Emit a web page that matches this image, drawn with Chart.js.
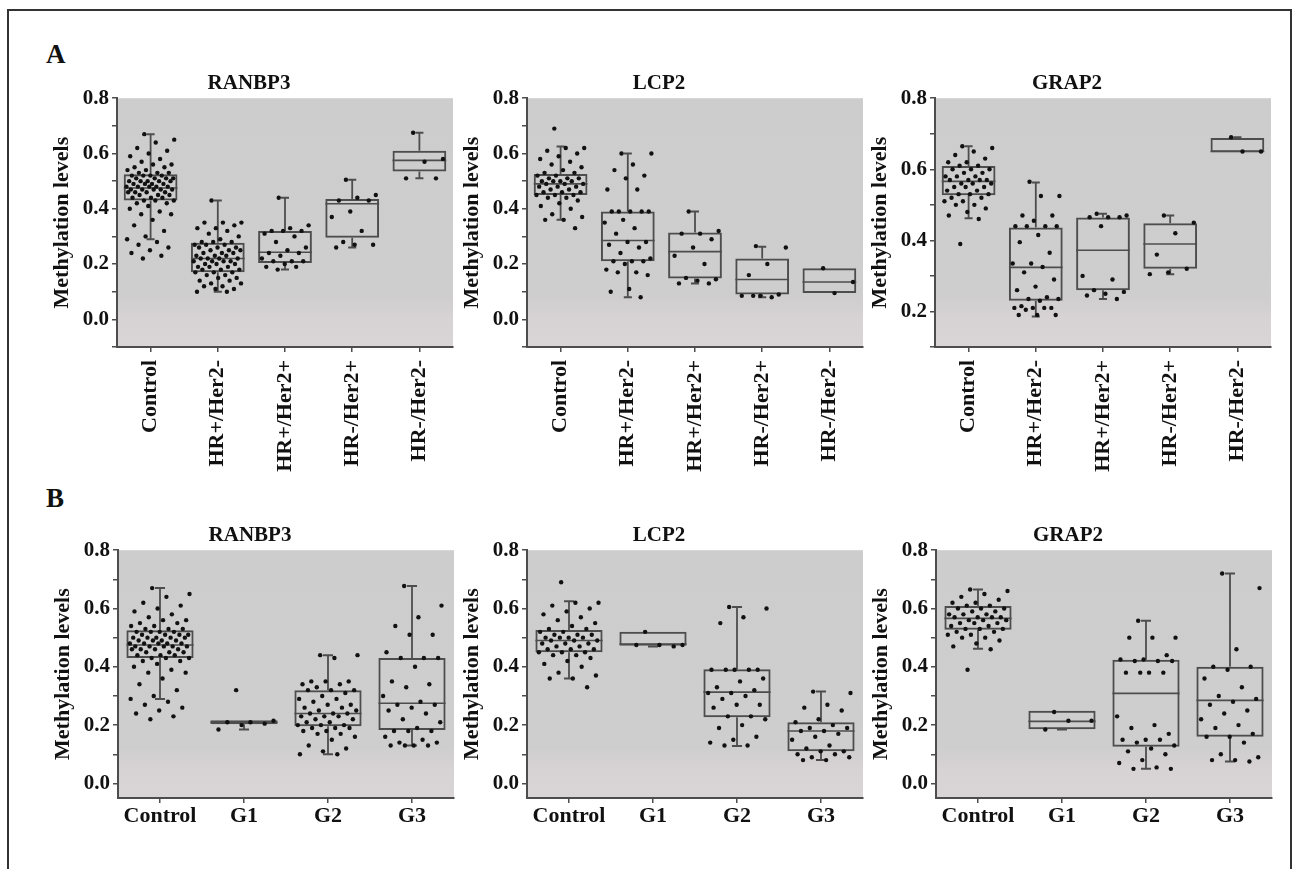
<!DOCTYPE html>
<html>
<head>
<meta charset="utf-8">
<script src="https://cdn.jsdelivr.net/npm/chart.js@4.4.1/dist/chart.umd.min.js"></script>
<style>
  body { margin: 0; background: #fff; width: 1293px; height: 869px; overflow: hidden; position: relative; font-family: "Liberation Serif", serif; }
  #frame { position: absolute; left: 7px; top: 9px; width: 1281px; height: 900px; border: 2px solid #333; border-bottom: none; }
  .lab { position: absolute; font-weight: bold; font-size: 27px; color: #111; line-height: 1; }
  canvas { position: absolute; }
</style>
</head>
<body>
<div id="frame"></div>
<div class="lab" style="left:46px;top:41px">A</div>
<div class="lab" style="left:46px;top:485px">B</div>
<canvas id="a1"></canvas>
<canvas id="a2"></canvas>
<canvas id="a3"></canvas>
<canvas id="b1"></canvas>
<canvas id="b2"></canvas>
<canvas id="b3"></canvas>
<script>
// categories and tick labels
const subtypeLabels = ['Control', 'HR+/Her2-', 'HR+/Her2+', 'HR-/Her2+', 'HR-/Her2-'];
const gradeLabels = ['Control', 'G1', 'G2', 'G3'];
const yTickLabels = ['0.0', '0.2', '0.4', '0.6', '0.8'];

// box stats per group: [lower whisker, q1, median, q3, upper whisker]
const ranbp3SubtypeBoxes = [[0.29, 0.43, 0.475, 0.525, 0.67], [0.10, 0.17, 0.22, 0.277, 0.43], [0.18, 0.204, 0.243, 0.32, 0.44], [0.26, 0.295, 0.418, 0.435, 0.505], [0.51, 0.535, 0.575, 0.61, 0.675]];
const lcp2SubtypeBoxes = [[0.36, 0.45, 0.49, 0.526, 0.625], [0.08, 0.21, 0.285, 0.39, 0.60], [0.13, 0.148, 0.245, 0.314, 0.39], [0.08, 0.09, 0.144, 0.22, 0.263], [0.095, 0.095, 0.135, 0.185, 0.185]];
const grap2SubtypeBoxes = [[0.462, 0.527, 0.566, 0.609, 0.665], [0.186, 0.23, 0.324, 0.436, 0.563], [0.235, 0.26, 0.372, 0.464, 0.475], [0.305, 0.32, 0.39, 0.448, 0.47], [0.648, 0.648, 0.65, 0.688, 0.69]];
const ranbp3GradeBoxes = [[0.29, 0.43, 0.475, 0.525, 0.67], [0.185, 0.203, 0.21, 0.217, 0.217], [0.10, 0.196, 0.24, 0.32, 0.44], [0.13, 0.183, 0.275, 0.43, 0.677]];
const lcp2GradeBoxes = [[0.36, 0.45, 0.49, 0.526, 0.625], [0.47, 0.472, 0.478, 0.52, 0.52], [0.128, 0.227, 0.313, 0.392, 0.605], [0.08, 0.11, 0.18, 0.21, 0.315]];
const grap2GradeBoxes = [[0.462, 0.527, 0.566, 0.609, 0.665], [0.185, 0.186, 0.213, 0.249, 0.249], [0.05, 0.126, 0.309, 0.424, 0.558], [0.075, 0.16, 0.285, 0.40, 0.72]];

// individual samples
const ranbp3Control = [0.67,0.65,0.64,0.62,0.61,0.60,0.59,0.58,0.57,0.56,0.56,0.55,0.55,0.54,0.54,0.53,0.53,0.53,0.52,0.52,0.52,0.52,0.51,0.51,0.51,0.51,0.50,0.50,0.50,0.50,0.50,0.49,0.49,0.49,0.49,0.48,0.48,0.48,0.48,0.48,0.47,0.47,0.47,0.47,0.47,0.46,0.46,0.46,0.46,0.45,0.45,0.45,0.44,0.44,0.44,0.43,0.43,0.43,0.42,0.42,0.41,0.40,0.39,0.38,0.38,0.36,0.34,0.32,0.30,0.29,0.28,0.27,0.26,0.25,0.24,0.23,0.22];
const ranbp3HRposHer2neg = [0.43,0.35,0.35,0.35,0.34,0.33,0.33,0.32,0.31,0.30,0.29,0.28,0.28,0.28,0.27,0.27,0.27,0.26,0.26,0.26,0.25,0.25,0.25,0.24,0.24,0.24,0.23,0.23,0.23,0.22,0.22,0.22,0.22,0.21,0.21,0.21,0.21,0.20,0.20,0.20,0.19,0.19,0.19,0.18,0.18,0.18,0.17,0.17,0.17,0.16,0.16,0.15,0.15,0.14,0.14,0.13,0.13,0.12,0.12,0.11,0.11,0.10,0.10];
const ranbp3HRposHer2pos = [0.44,0.34,0.33,0.32,0.32,0.32,0.31,0.30,0.28,0.26,0.25,0.24,0.24,0.23,0.22,0.21,0.21,0.21,0.20,0.19,0.19,0.18];
const ranbp3HRnegHer2pos = [0.505,0.45,0.44,0.43,0.43,0.39,0.37,0.32,0.28,0.27,0.27,0.26];
const ranbp3HRnegHer2neg = [0.675,0.58,0.57,0.51,0.51];
const ranbp3G1 = [0.32,0.215,0.21,0.21,0.205,0.20,0.185];
const ranbp3G2 = [0.44,0.44,0.43,0.35,0.35,0.35,0.34,0.34,0.33,0.32,0.32,0.32,0.31,0.30,0.29,0.29,0.28,0.27,0.27,0.26,0.26,0.25,0.25,0.24,0.24,0.24,0.23,0.23,0.23,0.22,0.22,0.21,0.21,0.20,0.20,0.20,0.19,0.19,0.19,0.18,0.18,0.17,0.17,0.16,0.15,0.13,0.12,0.11,0.10,0.10];
const ranbp3G3 = [0.677,0.61,0.57,0.54,0.51,0.51,0.45,0.43,0.43,0.43,0.40,0.35,0.34,0.33,0.30,0.28,0.27,0.27,0.26,0.25,0.24,0.22,0.21,0.19,0.18,0.18,0.18,0.16,0.15,0.14,0.14,0.13,0.13,0.13,0.13];

const lcp2Control = [0.69,0.62,0.62,0.61,0.60,0.59,0.58,0.57,0.56,0.55,0.54,0.53,0.53,0.52,0.52,0.51,0.51,0.51,0.50,0.50,0.50,0.50,0.49,0.49,0.49,0.48,0.48,0.48,0.47,0.47,0.46,0.46,0.46,0.45,0.45,0.45,0.44,0.44,0.43,0.42,0.41,0.40,0.38,0.37,0.36,0.36,0.33];
const lcp2HRposHer2neg = [0.60,0.60,0.56,0.54,0.52,0.51,0.47,0.47,0.39,0.39,0.39,0.39,0.39,0.36,0.35,0.33,0.31,0.28,0.28,0.27,0.26,0.24,0.22,0.21,0.21,0.21,0.20,0.18,0.17,0.17,0.16,0.11,0.10,0.08];
const lcp2HRposHer2pos = [0.39,0.32,0.31,0.31,0.29,0.26,0.23,0.20,0.15,0.145,0.14,0.13,0.13];
const lcp2HRnegHer2pos = [0.265,0.26,0.20,0.16,0.09,0.085,0.085,0.08,0.085];
const lcp2HRnegHer2neg = [0.185,0.135,0.095];
const lcp2G1 = [0.52,0.475,0.475,0.475,0.47];
const lcp2G2 = [0.605,0.60,0.57,0.55,0.39,0.39,0.39,0.39,0.39,0.36,0.35,0.33,0.32,0.31,0.31,0.30,0.29,0.27,0.27,0.26,0.23,0.23,0.22,0.20,0.19,0.16,0.15,0.14,0.13,0.13];
const lcp2G3 = [0.315,0.31,0.27,0.26,0.25,0.22,0.21,0.20,0.19,0.19,0.18,0.18,0.17,0.16,0.15,0.13,0.12,0.11,0.11,0.10,0.10,0.09,0.09,0.08,0.08];

const grap2Control = [0.665,0.66,0.65,0.64,0.63,0.62,0.62,0.61,0.61,0.60,0.60,0.60,0.59,0.59,0.58,0.58,0.58,0.57,0.57,0.57,0.57,0.56,0.56,0.56,0.55,0.55,0.55,0.54,0.54,0.53,0.53,0.53,0.52,0.52,0.51,0.51,0.50,0.50,0.49,0.48,0.47,0.46,0.39];
const grap2HRposHer2neg = [0.565,0.525,0.525,0.47,0.47,0.455,0.44,0.44,0.44,0.44,0.415,0.395,0.365,0.335,0.335,0.325,0.31,0.29,0.27,0.26,0.24,0.235,0.235,0.23,0.215,0.21,0.21,0.21,0.21,0.205,0.19,0.19,0.19];
const grap2HRposHer2pos = [0.475,0.47,0.465,0.465,0.465,0.44,0.30,0.29,0.26,0.255,0.25,0.245,0.235];
const grap2HRnegHer2pos = [0.47,0.45,0.42,0.36,0.32,0.31,0.305];
const grap2HRnegHer2neg = [0.69,0.65,0.65];
const grap2G1 = [0.245,0.215,0.215,0.185];
const grap2G2 = [0.558,0.50,0.50,0.50,0.44,0.425,0.425,0.42,0.42,0.42,0.38,0.38,0.38,0.38,0.23,0.20,0.19,0.17,0.15,0.15,0.15,0.14,0.13,0.12,0.11,0.10,0.08,0.07,0.055,0.05,0.05];
const grap2G3 = [0.72,0.67,0.46,0.40,0.40,0.39,0.36,0.33,0.30,0.29,0.28,0.27,0.25,0.24,0.22,0.20,0.19,0.17,0.16,0.16,0.14,0.10,0.09,0.08,0.08,0.075];

const SERIF = '"Liberation Serif", "Times New Roman", serif';
const INK = '#111';
const LINE = '#4d4d4d';

// gray panel background, slightly pinkish near the bottom like the original
const plotBg = {
  id: 'plotBg',
  beforeDraw(chart) {
    const { ctx, chartArea: a } = chart;
    const g = ctx.createLinearGradient(0, a.top, 0, a.bottom);
    g.addColorStop(0, '#cdcdcd');
    g.addColorStop(0.8, '#cfcecf');
    g.addColorStop(0.88, '#d7d2d3');
    g.addColorStop(1, '#d9d4d5');
    ctx.save();
    ctx.fillStyle = g;
    ctx.fillRect(a.left, a.top, a.right - a.left, a.bottom - a.top);
    ctx.restore();
  }
};

function buildPanel(id, place, title, labels, boxes, groups, yMin, rotated) {
  const n = labels.length;
  const xH = rotated ? 130 : 40;
  const canvas = document.getElementById(id);
  canvas.width = 422;
  canvas.height = Math.round(31.2 + place.h + xH);
  canvas.style.left = (place.left - 72) + 'px';
  canvas.style.top = Math.round(place.top - 31.2) + 'px';

  // horizontal spread of the dots inside each group (layout only)
  const pts = [];
  groups.forEach((vals, g) => vals.forEach((v, i) => {
    const off = (((i * 0.618034 + 0.37) % 1) - 0.5) * 0.72;
    pts.push({ x: g + off, y: v });
  }));
  const whisk = [], caps = [], meds = [];
  boxes.forEach((b, g) => {
    const [lo, q1, md, q3, hi] = b;
    if (lo < q1) {
      whisk.push({ x: g, y: lo }, { x: g, y: q1 }, { x: g, y: null });
      caps.push({ x: g - 0.06, y: lo }, { x: g + 0.06, y: lo }, { x: g, y: null });
    }
    if (hi > q3) {
      whisk.push({ x: g, y: q3 }, { x: g, y: hi }, { x: g, y: null });
      caps.push({ x: g - 0.06, y: hi }, { x: g + 0.06, y: hi }, { x: g, y: null });
    }
    meds.push({ x: g - 0.4, y: md }, { x: g + 0.4, y: md }, { x: g, y: null });
  });

  new Chart(canvas, {
    type: 'bar',
    data: {
      labels: labels,
      datasets: [
        { type: 'scatter', data: pts, xAxisID: 'x2', pointRadius: 2.2, pointBorderWidth: 0, pointBackgroundColor: INK },
        { type: 'line', data: meds, xAxisID: 'x2', borderColor: LINE, borderWidth: 1.6, pointRadius: 0, spanGaps: false },
        { type: 'line', data: caps, xAxisID: 'x2', borderColor: LINE, borderWidth: 2, pointRadius: 0, spanGaps: false },
        { type: 'line', data: whisk, xAxisID: 'x2', borderColor: LINE, borderWidth: 1.8, pointRadius: 0, spanGaps: false },
        { data: boxes.map(b => [b[1], b[3]]), xAxisID: 'x', backgroundColor: 'rgba(0,0,0,0)', borderColor: LINE, borderWidth: 2,
          borderSkipped: false, grouped: false, barPercentage: 0.8, categoryPercentage: 1 }
      ]
    },
    options: {
      responsive: false,
      devicePixelRatio: 1,
      animation: false,
      layout: { padding: { left: 0, right: 14, top: 0, bottom: 0 } },
      plugins: {
        legend: { display: false },
        tooltip: { enabled: false },
        title: { display: true, text: title, color: INK, font: { family: SERIF, size: 21, weight: 'bold' }, padding: { top: 4, bottom: 2 } }
      },
      scales: {
        x: {
          type: 'category',
          offset: true,
          border: { display: true, color: LINE, width: 2 },
          grid: { display: true, offset: false, drawOnChartArea: false, drawTicks: true, tickLength: 5, color: LINE, lineWidth: 1.5 },
          ticks: { color: INK, font: { family: SERIF, size: 22, weight: 'bold' }, autoSkip: false,
                   maxRotation: rotated ? 90 : 0, minRotation: rotated ? 90 : 0, padding: rotated ? 8 : 0 },
          afterFit: s => { s.height = xH; }
        },
        x2: { type: 'linear', display: false, offset: false, bounds: 'data', grid: { offset: false }, min: -0.5, max: n - 0.5 },
        y: {
          min: yMin, max: 0.8,
          border: { display: true, color: LINE, width: 2 },
          grid: { display: true, drawOnChartArea: false, drawTicks: true, tickLength: 5, color: LINE, lineWidth: 1.5 },
          afterBuildTicks: s => {
            const t = [];
            for (let k = Math.ceil(yMin * 10 - 1e-9); k <= 8; k++) t.push({ value: k / 10 });
            s.ticks = t;
          },
          ticks: {
            color: INK, padding: 3, autoSkip: false, font: { family: SERIF, size: 21, weight: 'bold' },
            callback: v => { const s = v.toFixed(1); return (Math.abs(v * 5 - Math.round(v * 5)) < 1e-6 && yTickLabels.includes(s)) ? s : ''; }
          },
          title: { display: true, text: 'Methylation levels', color: INK, font: { family: SERIF, size: 22, weight: 'bold' }, padding: { top: 4, bottom: 0 } },
          afterFit: s => { s.width = 72; }
        }
      }
    },
    plugins: [plotBg]
  });
}

const rowA = 98, rowB = 550;
buildPanel('a1', { left: 117, top: rowA, h: 249 }, 'RANBP3', subtypeLabels, ranbp3SubtypeBoxes,
  [ranbp3Control, ranbp3HRposHer2neg, ranbp3HRposHer2pos, ranbp3HRnegHer2pos, ranbp3HRnegHer2neg], -0.1, true);
buildPanel('a2', { left: 527, top: rowA, h: 249 }, 'LCP2', subtypeLabels, lcp2SubtypeBoxes,
  [lcp2Control, lcp2HRposHer2neg, lcp2HRposHer2pos, lcp2HRnegHer2pos, lcp2HRnegHer2neg], -0.1, true);
buildPanel('a3', { left: 935, top: rowA, h: 249 }, 'GRAP2', subtypeLabels, grap2SubtypeBoxes,
  [grap2Control, grap2HRposHer2neg, grap2HRposHer2pos, grap2HRnegHer2pos, grap2HRnegHer2neg], 0.1, true);
buildPanel('b1', { left: 118, top: rowB, h: 248 }, 'RANBP3', gradeLabels, ranbp3GradeBoxes,
  [ranbp3Control, ranbp3G1, ranbp3G2, ranbp3G3], -0.05, false);
buildPanel('b2', { left: 527, top: rowB, h: 248 }, 'LCP2', gradeLabels, lcp2GradeBoxes,
  [lcp2Control, lcp2G1, lcp2G2, lcp2G3], -0.05, false);
buildPanel('b3', { left: 936, top: rowB, h: 248 }, 'GRAP2', gradeLabels, grap2GradeBoxes,
  [grap2Control, grap2G1, grap2G2, grap2G3], -0.05, false);
</script>
</body>
</html>
